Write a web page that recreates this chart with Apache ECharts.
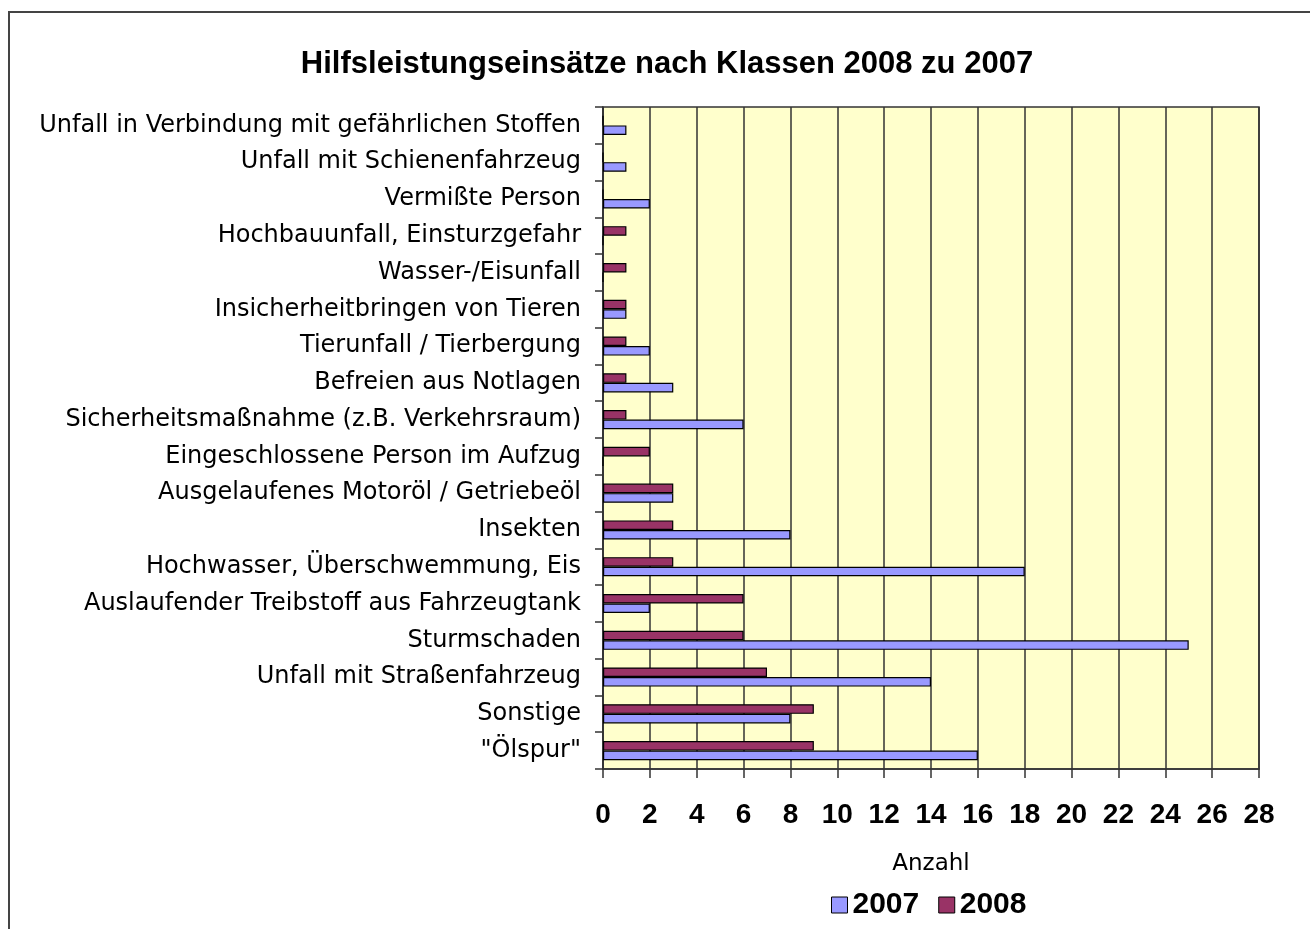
<!DOCTYPE html>
<html>
<head>
<meta charset="utf-8">
<script src="https://cdn.jsdelivr.net/npm/echarts@6/dist/echarts.min.js"></script>
<style>
  html, body { margin: 0; padding: 0; background: #fff; }
  #frame {
    position: absolute; left: 8px; top: 11px; width: 1320px; height: 940px;
    border-top: 2px solid #444; border-left: 2px solid #444; box-sizing: border-box;
  }
  #chart { position: absolute; left: 0; top: 0; width: 1310px; height: 929px; }
</style>
</head>
<body>
<div id="frame"></div>
<div id="chart"></div>
<script>
// categories, top to bottom as in the original
var categories = [
  'Unfall in Verbindung mit gefährlichen Stoffen',
  'Unfall mit Schienenfahrzeug',
  'Vermißte Person',
  'Hochbauunfall, Einsturzgefahr',
  'Wasser-/Eisunfall',
  'Insicherheitbringen von Tieren',
  'Tierunfall / Tierbergung',
  'Befreien aus Notlagen',
  'Sicherheitsmaßnahme (z.B. Verkehrsraum)',
  'Eingeschlossene Person im Aufzug',
  'Ausgelaufenes Motoröl / Getriebeöl',
  'Insekten',
  'Hochwasser, Überschwemmung, Eis',
  'Auslaufender Treibstoff aus Fahrzeugtank',
  'Sturmschaden',
  'Unfall mit Straßenfahrzeug',
  'Sonstige',
  '"Ölspur"'
];
var values2007 = [1, 1, 2, 0, 0, 1, 2, 3, 6, 0, 3, 8, 18, 2, 25, 14, 8, 16];
var values2008 = [0, 0, 0, 1, 1, 1, 1, 1, 1, 2, 3, 3, 3, 6, 6, 7, 9, 9];

var chart = echarts.init(document.getElementById('chart'));
var font = 'Liberation Sans, Arial, sans-serif';
var plain = 'DejaVu Sans, sans-serif';

var option = {
  backgroundColor: 'transparent',
  animation: false,
  title: {
    text: 'Hilfsleistungseinsätze nach Klassen 2008 zu 2007',
    left: 662,
    textAlign: 'center',
    top: 44,
    textStyle: { fontFamily: font, fontSize: 31, fontWeight: 'bold', color: '#000' }
  },
  legend: {
    bottom: 4,
    left: 826,
    itemWidth: 16,
    itemHeight: 16,
    itemGap: 19,
    icon: 'rect',
    itemStyle: { borderColor: '#000', borderWidth: 1 },
    textStyle: { fontFamily: font, fontSize: 30, fontWeight: 'bold', color: '#000' },
    data: ['2007', '2008']
  },
  grid: {
    left: 603,
    top: 107,
    right: 51,
    bottom: 160,
    show: true,
    backgroundColor: '#ffffcc',
    borderColor: '#333',
    borderWidth: 1.5
  },
  xAxis: {
    type: 'value',
    min: 0,
    max: 28,
    interval: 2,
    name: 'Anzahl',
    nameLocation: 'middle',
    nameGap: 84,
    nameTextStyle: { fontFamily: plain, fontSize: 23, color: '#000' },
    axisLine: { show: true, lineStyle: { color: '#333', width: 1.5 } },
    axisTick: { show: true, length: 9, lineStyle: { color: '#333', width: 1.5 } },
    axisLabel: { fontFamily: font, fontSize: 28, fontWeight: 'bold', color: '#000', margin: 32 },
    splitLine: { show: true, lineStyle: { color: '#333', width: 1.5 } }
  },
  yAxis: {
    type: 'category',
    inverse: true,
    data: categories,
    axisLine: { show: true, lineStyle: { color: '#333', width: 1.5 } },
    axisTick: { show: true, length: 8, lineStyle: { color: '#333', width: 1.5 } },
    axisLabel: { fontFamily: plain, fontSize: 24, color: '#000', margin: 22 }
  },
  series: [
    {
      name: '2008',
      type: 'bar',
      data: values2008,
      barGap: '0%',
      barCategoryGap: '48%',
      itemStyle: { color: '#993366', borderColor: '#000', borderWidth: 1.2 }
    },
    {
      name: '2007',
      type: 'bar',
      data: values2007,
      barGap: '0%',
      barCategoryGap: '48%',
      itemStyle: { color: '#9999ff', borderColor: '#000', borderWidth: 1.2 }
    }
  ]
};
chart.setOption(option);
</script>
</body>
</html>
